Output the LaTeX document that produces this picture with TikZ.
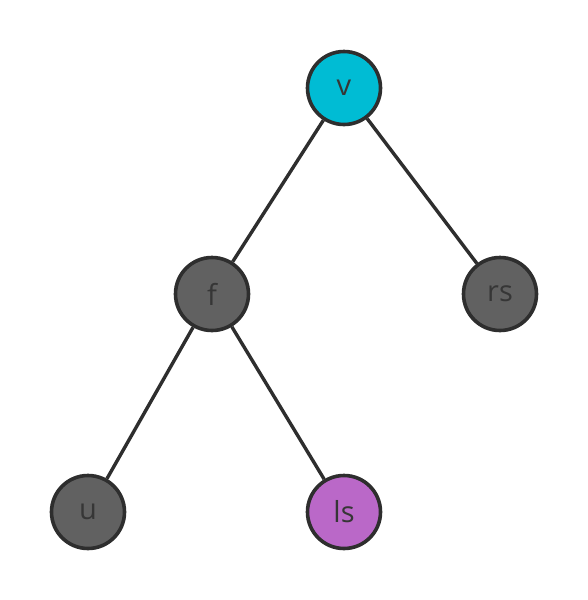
\documentclass[tikz,border=0pt]{standalone}
\usepackage{fontspec}
\setmainfont{Open Sans}
\usepackage{xcolor}
\definecolor{ink}{HTML}{2E2E2E}
\definecolor{textink}{HTML}{363636}
\definecolor{rootfill}{HTML}{00BCD4}
\definecolor{plainfill}{HTML}{616161}
\definecolor{markfill}{HTML}{BA68C8}
\tikzset{
  vertex/.style={
    circle,
    draw=ink,
    line width=3.6pt,
    minimum size=73pt,
    inner sep=0pt,
    text=textink,
    font=\fontsize{29}{32}\selectfont
  },
  root/.style={vertex, fill=rootfill},
  plain/.style={vertex, fill=plainfill},
  marked/.style={vertex, fill=markfill},
  edge/.style={
    draw=ink,
    line width=3.4pt
  }
}
\begin{document}
\begin{tikzpicture}[x=1pt,y=-1pt]
\useasboundingbox[fill=white] (0,0) rectangle (588,600);

% tree vertices
\node[root] (v) at (344,88) {v};
\node[plain] (f) at (212,294) {f};
\node[plain] (rs) at (500,294) {rs};
\node[plain] (u) at (88,512) {u};
\node[marked] (ls) at (344,512) {ls};

% tree edges
\draw[edge] (v) -- (f);
\draw[edge] (v) -- (rs);
\draw[edge] (f) -- (u);
\draw[edge] (f) -- (ls);

\end{tikzpicture}
\end{document}
